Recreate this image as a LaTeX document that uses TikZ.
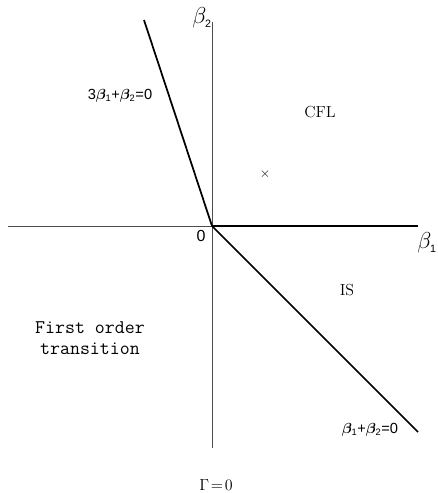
\documentclass[tikz,border=0pt]{standalone}
\usepackage{amsmath,bm}
\usepackage{fontspec}
\setsansfont{Liberation Sans}
\begin{document}
\begin{tikzpicture}[x=0.75pt,y=-0.75pt,
  axis/.style={draw=black!70,line width=0.6pt},
  bold line/.style={draw=black,line width=1.3pt},
  eqlabel/.style={font=\sffamily\fontsize{11}{13}\selectfont,inner sep=0pt},
  region/.style={font=\fontsize{12}{14}\selectfont,inner sep=0pt},
  axlabel/.style={font=\fontsize{17}{19}\selectfont,inner sep=0pt}]
\useasboundingbox (0,0) rectangle (437,493);
\coordinate (O) at (212,226);
\coordinate (xl) at (8,226);
\coordinate (xr) at (418,226);
\coordinate (yt) at (212,22);
\coordinate (yb) at (212,448);
\coordinate (lt) at (144,20);
\coordinate (rb) at (418,432);
\draw[axis] (xl) -- (O);
\draw[axis] (yt) -- (yb);
\draw[bold line] (O) -- (xr);
\draw[bold line] (lt) -- (O) -- (rb);
\node[axlabel] (b2) at (202,18) {$\beta_{\textsf{\footnotesize 2}}$};
\node[axlabel] (b1) at (427,243) {$\beta_{\textsf{\footnotesize 1}}$};
\node[font=\sffamily\fontsize{12}{14}\selectfont,inner sep=0pt] (zero) at (201,236) {0};
\node[eqlabel] (eq1) at (120,96) {3$\bm{\beta}_{\textsf{\scriptsize 1}}$+$\bm{\beta}_{\textsf{\scriptsize 2}}$=0};
\node[eqlabel] (eq2) at (370,430) {$\bm{\beta}_{\textsf{\scriptsize 1}}$+$\bm{\beta}_{\textsf{\scriptsize 2}}$=0};
\node[region] (cfl) at (320,112) {CFL};
\node[region] (is) at (347,290) {IS};
\node[inner sep=0pt,font=\fontsize{10}{10}\selectfont] (cross) at (265,174) {$\times$};
\node[font=\ttfamily\fontsize{14.5}{15.5}\selectfont,align=center,inner sep=0pt] (fot) at (90,338) {First order\\transition};
\node[font=\fontsize{13}{15}\selectfont,inner sep=0pt] (gam) at (216,485) {$\Gamma\!=\!0$};
\end{tikzpicture}
\end{document}
